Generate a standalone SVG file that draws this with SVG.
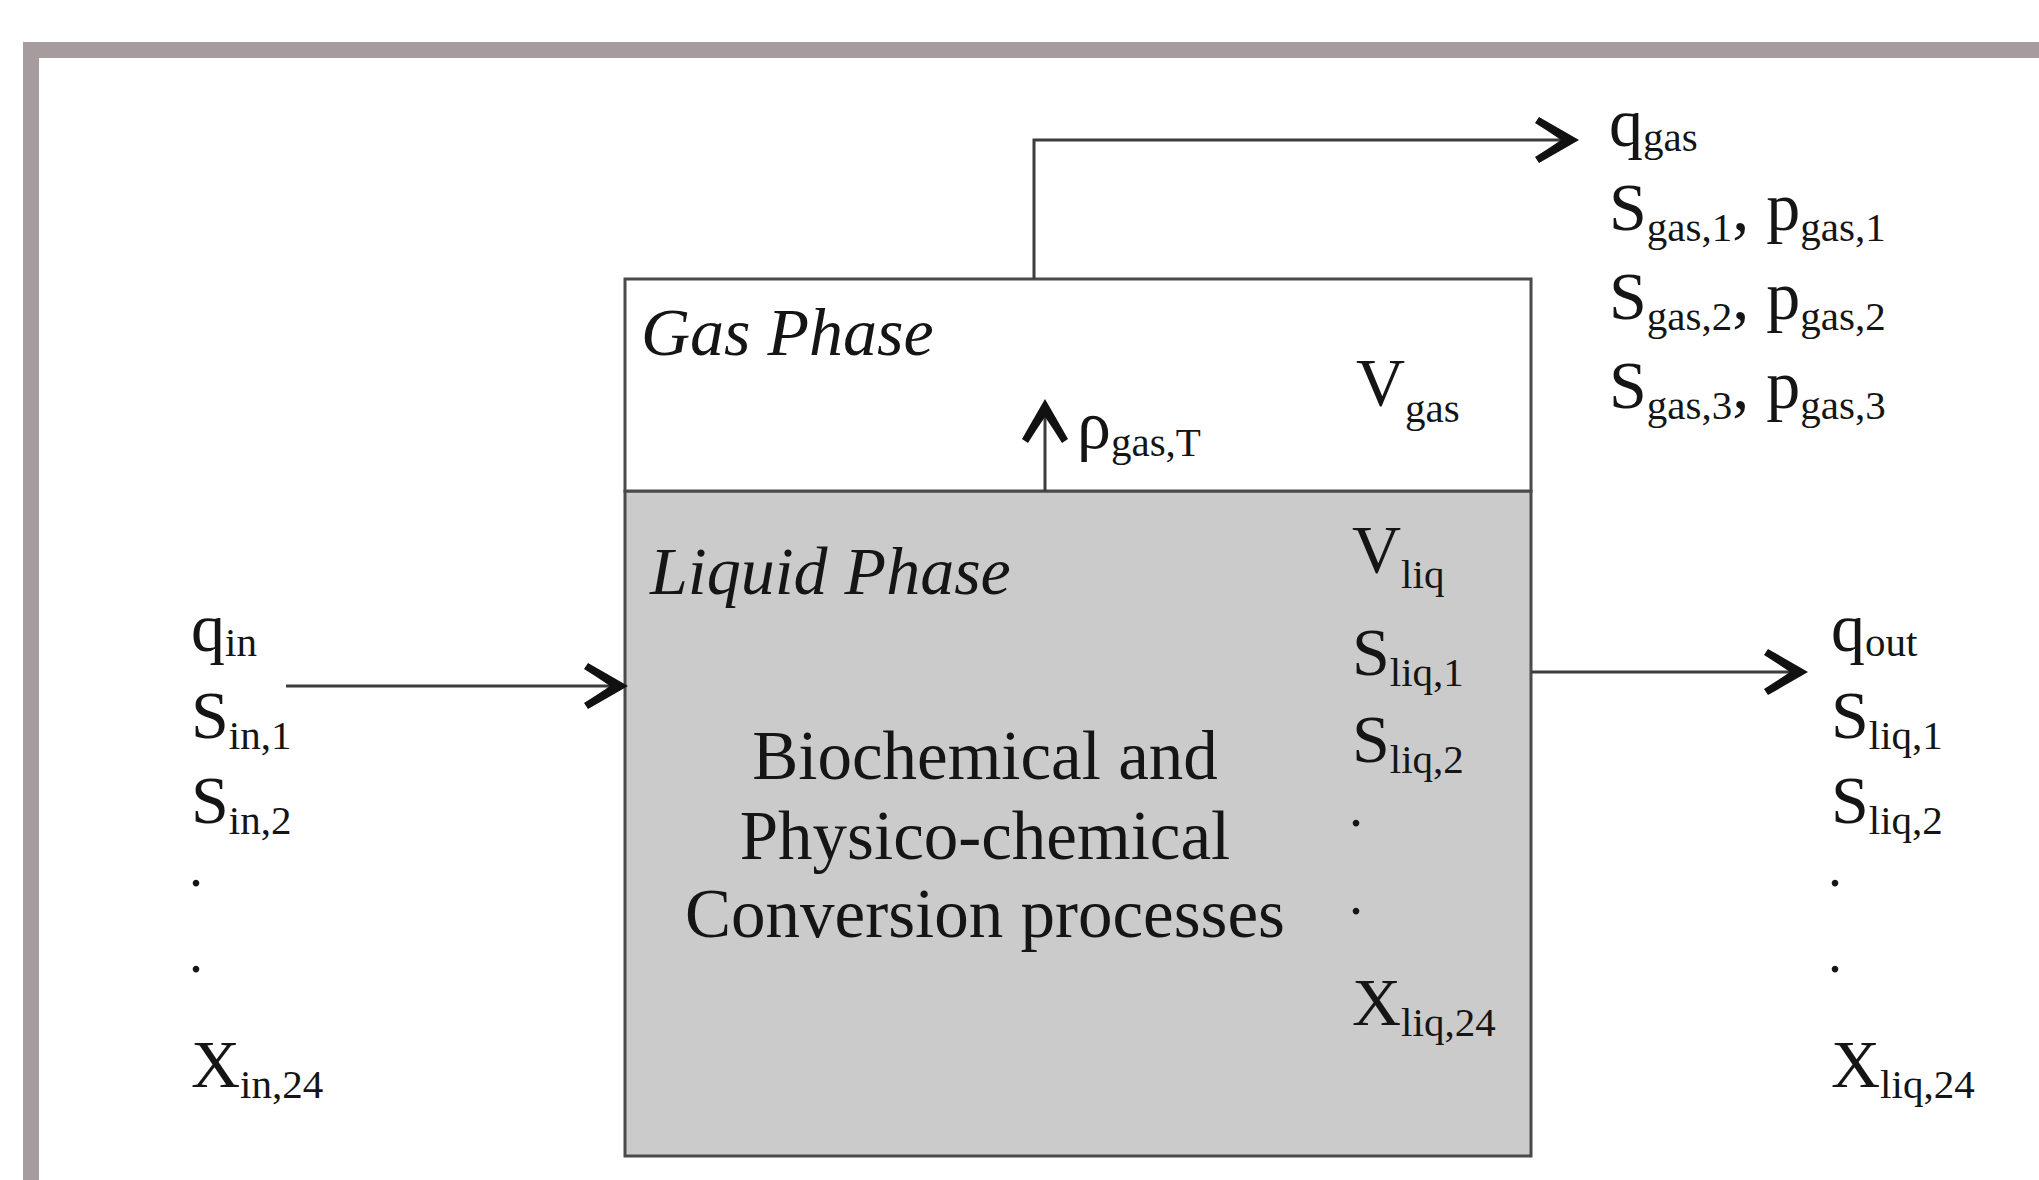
<svg xmlns="http://www.w3.org/2000/svg" width="2039" height="1180" viewBox="0 0 2039 1180">
<style>
text{font-family:"Liberation Serif","Times New Roman",serif;fill:#151515}
.v{font-size:68px}
.sub{font-size:41px}
.dot{font-size:56px}
.it{font-size:68px;font-style:italic}
.c{font-size:69px;text-anchor:middle}
.box{stroke:#4a4a4a;stroke-width:3}
.ln{fill:none;stroke:#3c3c3c;stroke-width:3}
.ah{fill:#111}
</style>
<defs>
<path id="ah" d="M3,0 Q-16,-11 -37,-23 L-41,-17 Q-25,-7 -15,0 Q-25,7 -41,17 L-37,23 Q-16,11 3,0 Z"/>
</defs>
<rect width="2039" height="1180" fill="#fff"/>
<rect id="frame" x="31" y="50" width="2100" height="1300" fill="#fff" stroke="#a69c9d" stroke-width="16"/>

<g id="liquid-phase">
<rect class="box" x="625" y="491" width="906" height="665" fill="#cbcbcb"/>
<text class="it" x="650" y="594">Liquid Phase</text>
<text class="c" x="985" y="779">Biochemical and</text>
<text class="c" x="985" y="859">Physico-chemical</text>
<text class="c" x="985" y="937">Conversion processes</text>
<text class="v" x="1352" y="572">V<tspan class="sub" dy="16">liq</tspan></text>
<text class="v" x="1352" y="675">S<tspan class="sub" dy="11">liq,1</tspan></text>
<text class="v" x="1352" y="762">S<tspan class="sub" dy="11">liq,2</tspan></text>
<text class="dot" x="1349" y="826">.</text>
<text class="dot" x="1349" y="914">.</text>
<text class="v" x="1352" y="1025">X<tspan class="sub" dy="11">liq,24</tspan></text>
</g>

<g id="gas-phase">
<rect class="box" x="625" y="279" width="906" height="212" fill="#fff"/>
<text class="it" x="641" y="355">Gas Phase</text>
<text class="v" x="1356" y="405">V<tspan class="sub" dy="17">gas</tspan></text>
<text class="v" x="1077" y="448">ρ<tspan class="sub" dy="8">gas,T</tspan></text>
</g>

<g id="inputs">
<text class="v" x="191" y="651">q<tspan class="sub" dy="5">in</tspan></text>
<text class="v" x="191" y="738">S<tspan class="sub" dy="11">in,1</tspan></text>
<text class="v" x="191" y="823">S<tspan class="sub" dy="11">in,2</tspan></text>
<text class="dot" x="189" y="886">.</text>
<text class="dot" x="189" y="972">.</text>
<text class="v" x="191" y="1087">X<tspan class="sub" dy="11">in,24</tspan></text>
</g>

<g id="outputs">
<text class="v" x="1831" y="651">q<tspan class="sub" dy="5">out</tspan></text>
<text class="v" x="1831" y="738">S<tspan class="sub" dy="11">liq,1</tspan></text>
<text class="v" x="1831" y="823">S<tspan class="sub" dy="11">liq,2</tspan></text>
<text class="dot" x="1828" y="886">.</text>
<text class="dot" x="1828" y="972">.</text>
<text class="v" x="1831" y="1087">X<tspan class="sub" dy="11">liq,24</tspan></text>
</g>

<g id="gas-outputs">
<text class="v" x="1609" y="146">q<tspan class="sub" dy="5">gas</tspan></text>
<text class="v" x="1609" y="230">S<tspan class="sub" dy="11">gas,1</tspan><tspan dy="-11">, p</tspan><tspan class="sub" dy="11">gas,1</tspan></text>
<text class="v" x="1609" y="319">S<tspan class="sub" dy="11">gas,2</tspan><tspan dy="-11">, p</tspan><tspan class="sub" dy="11">gas,2</tspan></text>
<text class="v" x="1609" y="408">S<tspan class="sub" dy="11">gas,3</tspan><tspan dy="-11">, p</tspan><tspan class="sub" dy="11">gas,3</tspan></text>
</g>

<g id="connectors">
<path class="ln" d="M1034,279 V140 H1566"/>
<use href="#ah" class="ah" transform="translate(1576,140)"/>
<path class="ln" d="M1045,491 V412"/>
<use href="#ah" class="ah" transform="translate(1045,402) rotate(-90)"/>
<path class="ln" d="M286,686 H615"/>
<use href="#ah" class="ah" transform="translate(625,686)"/>
<path class="ln" d="M1531,672 H1795"/>
<use href="#ah" class="ah" transform="translate(1805,672)"/>
</g>
</svg>
